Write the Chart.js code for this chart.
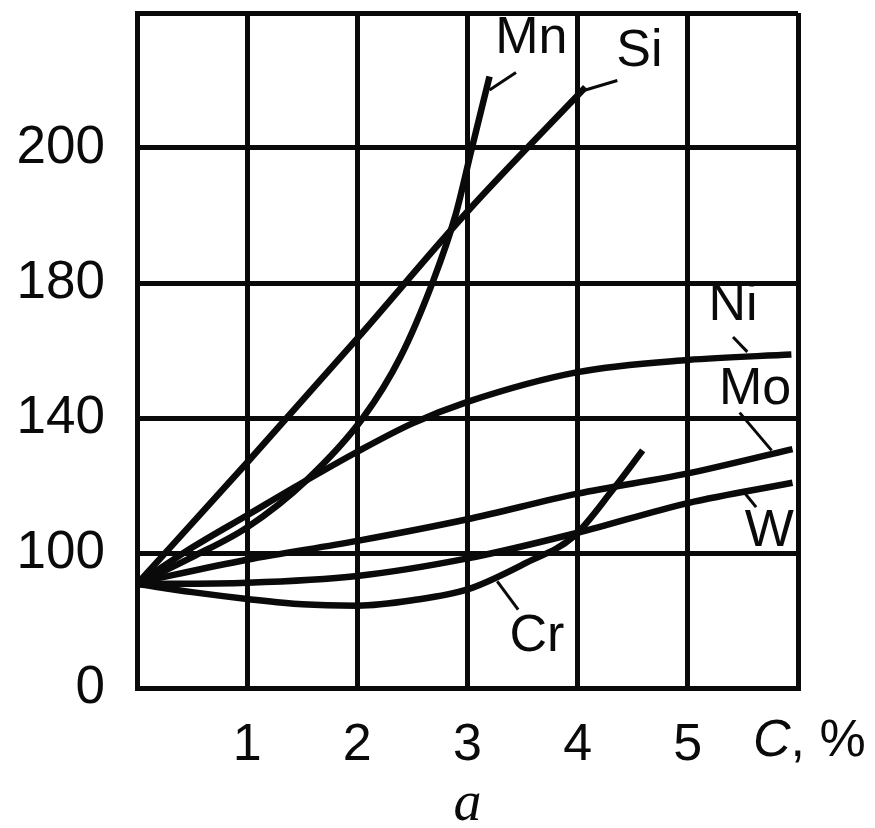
<!DOCTYPE html>
<html>
<head>
<meta charset="utf-8">
<script src="https://cdn.jsdelivr.net/npm/chart.js@4.4.1/dist/chart.umd.min.js"></script>
<style>
  html, body { margin: 0; padding: 0; background: #fff; }
  #wrap { width: 875px; height: 828px; }
</style>
</head>
<body>
<div id="wrap"><canvas id="chart" width="875" height="828"></canvas></div>
<script>
// axis ticks (y labels sit on evenly spaced gridlines)
const xTickValues = [1, 2, 3, 4, 5];
const yTickLabels = ['0', '100', '140', '180', '200', ''];

// curves: [C %, position on the grid]
const mn = [[0, 0.77], [0.5, 0.97], [1, 1.19], [1.54, 1.54], [2.05, 2.0], [2.39, 2.45], [2.69, 3.02], [2.89, 3.5], [3.04, 4.0], [3.2, 4.53]];
const si = [[0, 0.77], [1, 1.67], [2, 2.59], [3, 3.53], [4.07, 4.45]];
const ni = [[0, 0.77], [0.5, 1.04], [1, 1.28], [1.5, 1.52], [2, 1.75], [2.5, 1.96], [3, 2.12], [4, 2.34], [5, 2.43], [5.94, 2.47]];
const mo = [[0, 0.78], [1, 0.95], [2, 1.09], [3, 1.25], [4, 1.44], [5, 1.59], [5.95, 1.77]];
const w = [[0, 0.77], [1, 0.78], [2, 0.83], [3, 0.96], [4, 1.15], [5, 1.37], [5.95, 1.52]];
const cr = [[0, 0.77], [0.5, 0.71], [1, 0.66], [1.5, 0.62], [2, 0.61], [2.5, 0.65], [3, 0.73], [3.54, 0.93], [3.96, 1.12], [4.32, 1.47], [4.59, 1.76]];

// short leader strokes from curve to its name
const leaders = [
    [[3.2, 4.43], [3.44, 4.56]],
    [[4.07, 4.43], [4.36, 4.5]],
    [[5.41, 2.6], [5.54, 2.49]],
    [[5.47, 2.04], [5.76, 1.76]],
    [[5.51, 1.45], [5.62, 1.34]],
    [[3.27, 0.79], [3.46, 0.58]]
];
const curveNames = ['Mn', 'Si', 'Ni', 'Mo', 'W', 'Cr'];
const nameAt = [[3.58, 4.81], [4.56, 4.71], [5.41, 2.83], [5.61, 2.21], [5.74, 1.16], [3.63, 0.38]];

const SANS = "'Liberation Sans', Arial, Helvetica, sans-serif";
const INK = '#0a0a0a';

const toPts = arr => arr.map(p => ({ x: p[0], y: p[1] }));

const curveSets = [mn, si, ni, mo, w, cr].map((arr, i) => ({
    label: curveNames[i],
    data: toPts(arr),
    borderColor: INK,
    borderWidth: 6.5,
    pointRadius: 0,
    cubicInterpolationMode: 'monotone',
    fill: false
}));
const leaderSets = leaders.map(seg => ({
    data: toPts(seg),
    borderColor: INK,
    borderWidth: 3,
    pointRadius: 0,
    fill: false
}));

const namesPlugin = {
    id: 'names',
    afterDatasetsDraw(chart) {
        const { ctx, scales: { x, y } } = chart;
        ctx.save();
        ctx.fillStyle = INK;
        ctx.font = '52px ' + SANS;
        ctx.textAlign = 'center';
        ctx.textBaseline = 'middle';
        curveNames.forEach((name, i) => {
            ctx.fillText(name, x.getPixelForValue(nameAt[i][0]), y.getPixelForValue(nameAt[i][1]));
        });
        // axis unit after the last tick: italic C, upright ", %"
        const ux = x.getPixelForValue(6) - 45;
        const uy = y.getPixelForValue(0) + 54;
        ctx.textAlign = 'left';
        ctx.font = 'italic 52px ' + SANS;
        ctx.fillText('C', ux, uy);
        const cw = ctx.measureText('C').width;
        ctx.font = '52px ' + SANS;
        ctx.fillText(', %', ux + cw, uy);
        ctx.restore();
    }
};

new Chart(document.getElementById('chart'), {
    type: 'line',
    data: { datasets: [...curveSets, ...leaderSets] },
    options: {
        responsive: false,
        animation: false,
        events: [],
        layout: { padding: { top: 13, right: 77, left: 0, bottom: 0 } },
        plugins: { legend: { display: false }, tooltip: { enabled: false } },
        scales: {
            x: {
                type: 'linear',
                min: 0,
                max: 6,
                afterFit: s => { s.height = 140; s.paddingLeft = 0; s.paddingRight = 0; },
                afterBuildTicks: s => { s.ticks = [0, ...xTickValues, 6].map(v => ({ value: v })); },
                grid: { color: INK, lineWidth: 5, drawTicks: false },
                border: { color: INK, width: 5 },
                ticks: {
                    color: INK,
                    font: { family: SANS, size: 52 },
                    padding: 26,
                    maxRotation: 0,
                    callback: v => xTickValues.includes(v) ? String(v) : ''
                },
                title: {
                    display: true,
                    text: 'a',
                    color: INK,
                    font: { family: "'Liberation Serif', 'Times New Roman', serif", size: 56, style: 'italic', lineHeight: 0.8 },
                    padding: { top: 0, bottom: 0 }
                }
            },
            y: {
                type: 'linear',
                min: 0,
                max: 5,
                afterFit: s => { s.width = 137; s.paddingTop = 0; s.paddingBottom = 0; },
                grid: { color: INK, lineWidth: 5, drawTicks: false },
                border: { color: INK, width: 5 },
                ticks: {
                    stepSize: 1,
                    color: INK,
                    font: { family: SANS, size: 53 },
                    padding: 32,
                    callback: v => yTickLabels[v]
                }
            }
        }
    },
    plugins: [namesPlugin]
});
</script>
</body>
</html>
